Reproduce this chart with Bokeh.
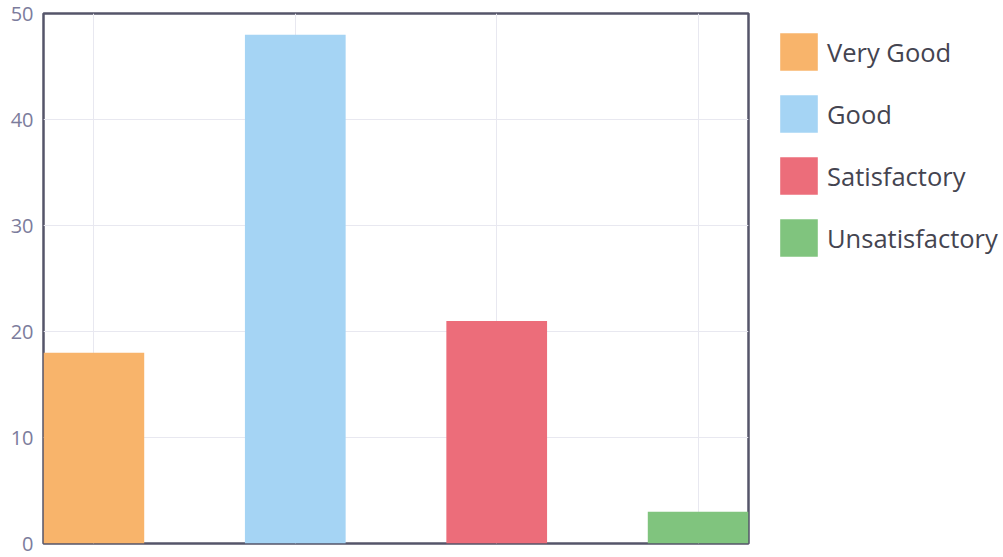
from bokeh.plotting import figure
from bokeh.models import ColumnDataSource, Legend, LegendItem, Range1d, FixedTicker
from bokeh.embed import file_html
from bokeh.resources import INLINE

categories = ["Very Good", "Good", "Satisfactory", "Unsatisfactory"]
values = [18, 48, 21, 3]
colors = ["#F8B46B", "#A5D4F4", "#EC6D7A", "#80C47E"]
y_ticks = [0, 10, 20, 30, 40, 50]

positions = list(range(len(categories)))

p = figure(frame_width=705, frame_height=530, output_backend="svg", toolbar_location=None,
           x_range=Range1d(-0.25, 3.25), y_range=Range1d(0, 50),
           min_border_left=43, min_border_top=13, min_border_bottom=13, min_border_right=0)

renderers = []
for i, (cat, val, col) in enumerate(zip(categories, values, colors)):
    src = ColumnDataSource(dict(x=[positions[i]], top=[val]))
    r = p.vbar(x="x", top="top", bottom=0, width=0.5, source=src,
               fill_color=col, line_color=None)
    renderers.append((cat, r))

p.xaxis.visible = False
p.yaxis.ticker = FixedTicker(ticks=y_ticks)
p.yaxis.major_label_text_font = "Open Sans"
p.yaxis.major_label_text_font_size = "20px"
p.yaxis.major_label_text_color = "#7C7C9C"
p.yaxis.axis_line_color = None
p.yaxis.major_tick_line_color = None
p.yaxis.minor_tick_line_color = None
p.yaxis.major_label_standoff = 4

p.xgrid.ticker = FixedTicker(ticks=positions)
p.xgrid.grid_line_color = "#E8E8F0"
p.ygrid.grid_line_color = "#E8E8F0"

p.outline_line_color = "#55556A"
p.outline_line_width = 2.5

legend = Legend(items=[LegendItem(label=c, renderers=[r]) for c, r in renderers],
                location=(27, 282))
legend.glyph_width = 47
legend.glyph_height = 47
legend.spacing = 15
legend.label_standoff = 5
legend.label_text_font = "Open Sans"
legend.label_text_font_size = "25.5px"
legend.label_text_baseline = "top"
legend.label_text_color = "#444450"
legend.border_line_color = None
legend.background_fill_alpha = 0
legend.padding = 0
legend.margin = 0
p.add_layout(legend, "right")

open("out.html", "w").write(file_html(p, INLINE))
